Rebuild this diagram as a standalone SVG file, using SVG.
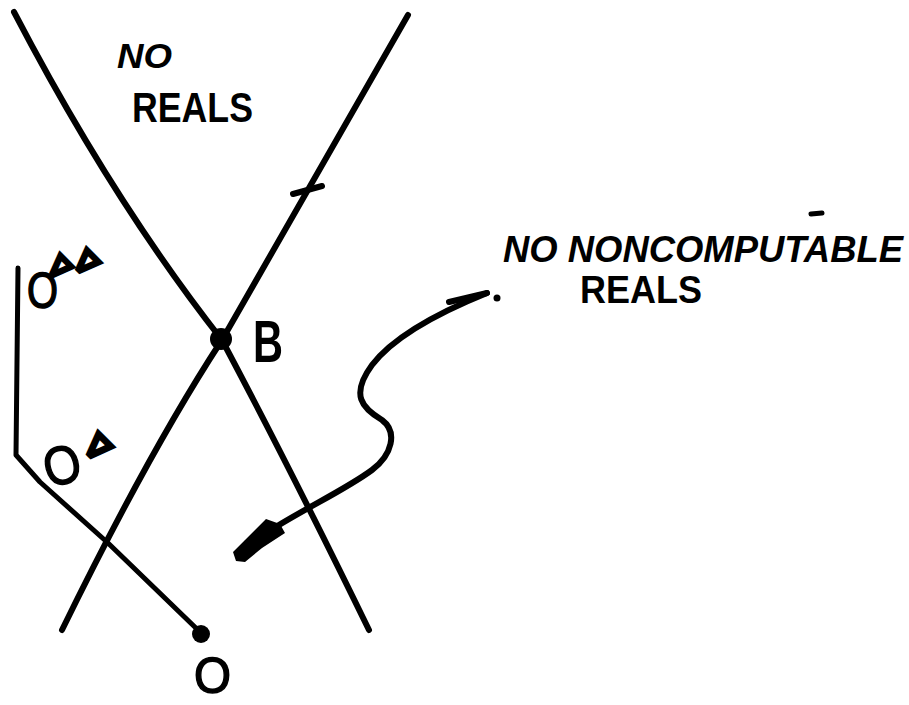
<svg xmlns="http://www.w3.org/2000/svg" width="909" height="705" viewBox="0 0 909 705">
<style>
.ln{fill:none;stroke:#000;stroke-width:6;stroke-linecap:round;stroke-linejoin:round}
.thin{stroke-width:5}
.t{font-family:"Liberation Sans",Arial,sans-serif;font-weight:bold;fill:#000}
.o{font-family:"Liberation Sans",Arial,sans-serif;fill:#000;stroke:#000;stroke-width:1.5}
.tri{font-family:"DejaVu Sans",sans-serif;font-weight:bold;fill:#000;stroke:#000;stroke-width:2.5;text-anchor:middle}
</style>
<rect width="909" height="705" fill="#fff"/>
<g id="connectors">
  <path class="ln" d="M14 12 Q112 200 222 340 Q292 472 369 630"/>
  <path class="ln" d="M408 15 Q315 178 222 340 Q150 450 62 630"/>
  <path class="ln" d="M293 194 L322 186"/>
  <path class="ln thin" d="M18 268 L16 455 L40 482 L108 543 L200 632"/>
  <path class="ln" d="M487 293 L449 302"/>
  <path class="ln" d="M487 293 C440 312 395 335 372 365 C350 395 362 408 382 420 C398 432 392 455 372 470 C345 490 305 508 266 533"/>
  <path d="M285 533 L280 524 L266 519 L245 540 L233 552 L236 561 L245 562 L262 548 Z" fill="#000"/>
  <circle cx="497" cy="298" r="3.5" fill="#000"/>
</g>
<g id="node-B">
  <circle cx="221" cy="339" r="11" fill="#000"/>
  <text class="t" x="253" y="362" font-size="60" textLength="30" lengthAdjust="spacingAndGlyphs">B</text>
</g>
<g id="node-O">
  <circle cx="201" cy="634" r="9" fill="#000"/>
  <text class="o" x="194" y="693" font-size="50" textLength="37" lengthAdjust="spacingAndGlyphs">O</text>
</g>
<g id="node-ODD">
  <text class="o" x="27" y="308" font-size="50" textLength="31" lengthAdjust="spacingAndGlyphs">O</text>
  <text class="tri" x="0" y="10" font-size="30" transform="translate(59,268) rotate(45)">∇</text>
  <text class="tri" x="0" y="10" font-size="32" transform="translate(85,264) rotate(45)">∇</text>
</g>
<g id="node-OD">
  <text class="o" x="0" y="0" font-size="54" textLength="37" lengthAdjust="spacingAndGlyphs" transform="translate(49,488) rotate(-15)">O</text>
  <text class="tri" x="0" y="10" font-size="34" transform="translate(96,449) rotate(45)">∇</text>
</g>
<g id="label-no-reals">
  <text class="t" x="117" y="68" font-size="35" textLength="55" lengthAdjust="spacingAndGlyphs" font-style="italic">NO</text>
  <text class="t" x="132" y="122" font-size="42" textLength="121" lengthAdjust="spacingAndGlyphs">REALS</text>
</g>
<g id="label-no-noncomputable">
  <text class="t" x="503" y="262" font-size="36" textLength="400" lengthAdjust="spacingAndGlyphs" font-style="italic">NO NONCOMPUTABLE</text>
  <path class="ln thin" d="M811 214 L822 213"/>
  <text class="t" x="580" y="303" font-size="39" textLength="122" lengthAdjust="spacingAndGlyphs">REALS</text>
</g>
</svg>
